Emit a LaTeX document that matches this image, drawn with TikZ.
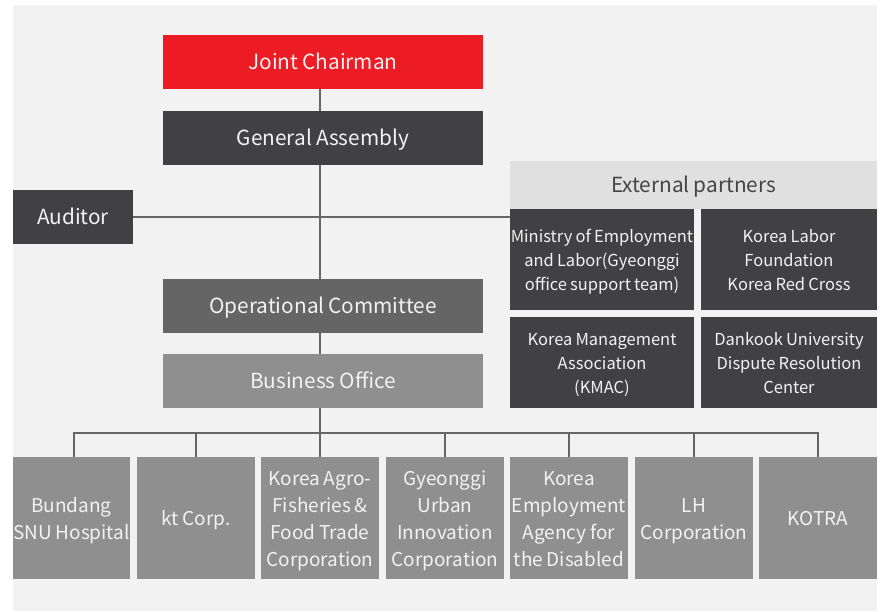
\documentclass[tikz,border=0pt]{standalone}
\usepackage{fontspec}
\setmainfont[WordSpace=0.85]{Noto Sans CJK KR}
\definecolor{panel}{HTML}{F2F2F2}
\definecolor{jred}{HTML}{ED1C24}
\definecolor{dark}{HTML}{414042}
\definecolor{mid}{HTML}{646564}
\definecolor{light}{HTML}{8E8F8E}
\definecolor{head}{HTML}{E0E0E0}
\definecolor{headtext}{HTML}{454545}
\definecolor{txt}{HTML}{F2F2F2}
\definecolor{conn}{HTML}{666666}
\newcommand{\lowtext}[1]{\raisebox{-2.5pt}[\height][\depth]{\begin{tabular}{@{}c@{}}#1\end{tabular}}}
\tikzset{
  box/.style={rectangle, inner sep=0pt, outer sep=0pt, align=center, text=txt},
  mainbox/.style={box, minimum width=320pt, minimum height=54pt, font=\fontsize{20.8}{26}\selectfont},
  partner/.style={box, fill=dark, font=\fontsize{16.5}{24}\selectfont},
  member/.style={box, fill=light, minimum width=118pt, minimum height=122pt, font=\fontsize{19}{27}\selectfont},
  link/.style={draw=conn, line width=1.4pt}
}
\begin{document}
\begin{tikzpicture}[x=1pt,y=-1pt]
\useasboundingbox (0,0) rectangle (883,611);
\fill[panel] (13,5) rectangle (877,611);
% main column
\node[mainbox, fill=jred] (jc) at (323,62) {\lowtext{Joint Chairman}};
\node[mainbox, fill=dark] (ga) at (323,138) {\lowtext{General Assembly}};
\node[mainbox, fill=mid] (oc) at (323,306) {\lowtext{Operational Committee}};
\node[mainbox, fill=light] (bo) at (323,381) {\lowtext{Business Office}};
% auditor
\node[box, fill=dark, minimum width=120pt, minimum height=54pt, font=\fontsize{20.8}{26}\selectfont] (aud) at (73,217) {\lowtext{Auditor}};
% external partners
\node[box, fill=head, text=headtext, minimum width=367pt, minimum height=48pt, font=\fontsize{20.8}{26}\selectfont] (ext) at (693.5,185) {\lowtext{External partners}};
\node[partner, minimum width=184pt, minimum height=101pt] (moel) at (602,259.5) {\lowtext{Ministry of Employment\\and Labor(Gyeonggi\\office support team)}};
\node[partner, minimum width=176pt, minimum height=101pt] (klf) at (789,259.5) {\lowtext{Korea Labor\\Foundation\\Korea Red Cross}};
\node[partner, minimum width=184pt, minimum height=91pt] (kmac) at (602,362.5) {\lowtext{Korea Management\\Association\\(KMAC)}};
\node[partner, minimum width=176pt, minimum height=91pt] (dku) at (789,362.5) {\lowtext{Dankook University\\Dispute Resolution\\Center}};
% members
\node[member, minimum width=117pt] (m1) at (71.5,518) {\lowtext{Bundang\\SNU Hospital}};
\node[member] (m2) at (196,518) {\lowtext{kt Corp.}};
\node[member] (m3) at (320,518) {\lowtext{Korea Agro-\\Fisheries \&\\Food Trade\\Corporation}};
\node[member] (m4) at (445,518) {\lowtext{Gyeonggi\\Urban\\Innovation\\Corporation}};
\node[member] (m5) at (569,518) {\lowtext{Korea\\Employment\\Agency for\\the Disabled}};
\node[member] (m6) at (694,518) {\lowtext{LH\\Corporation}};
\node[member] (m7) at (818,518) {\lowtext{KOTRA}};
% connectors
\coordinate (bus) at (320,433);
\coordinate (d1) at (74,457);
\draw[link] (jc.south -| 320,0) -- (ga.north -| 320,0);
\draw[link] (ga.south -| 320,0) -- (oc.north -| 320,0);
\draw[link] (oc.south -| 320,0) -- (bo.north -| 320,0);
\draw[link] (bo.south -| 320,0) -- (bus);
\draw[link] (aud.east) -- (aud.east -| moel.west);
\draw[link] (d1) |- (bus) -| (m7.north);
\foreach \m in {m2,m3,m4,m5,m6}{\draw[link] (\m.north) -- (\m.north |- bus);}
\end{tikzpicture}
\end{document}
